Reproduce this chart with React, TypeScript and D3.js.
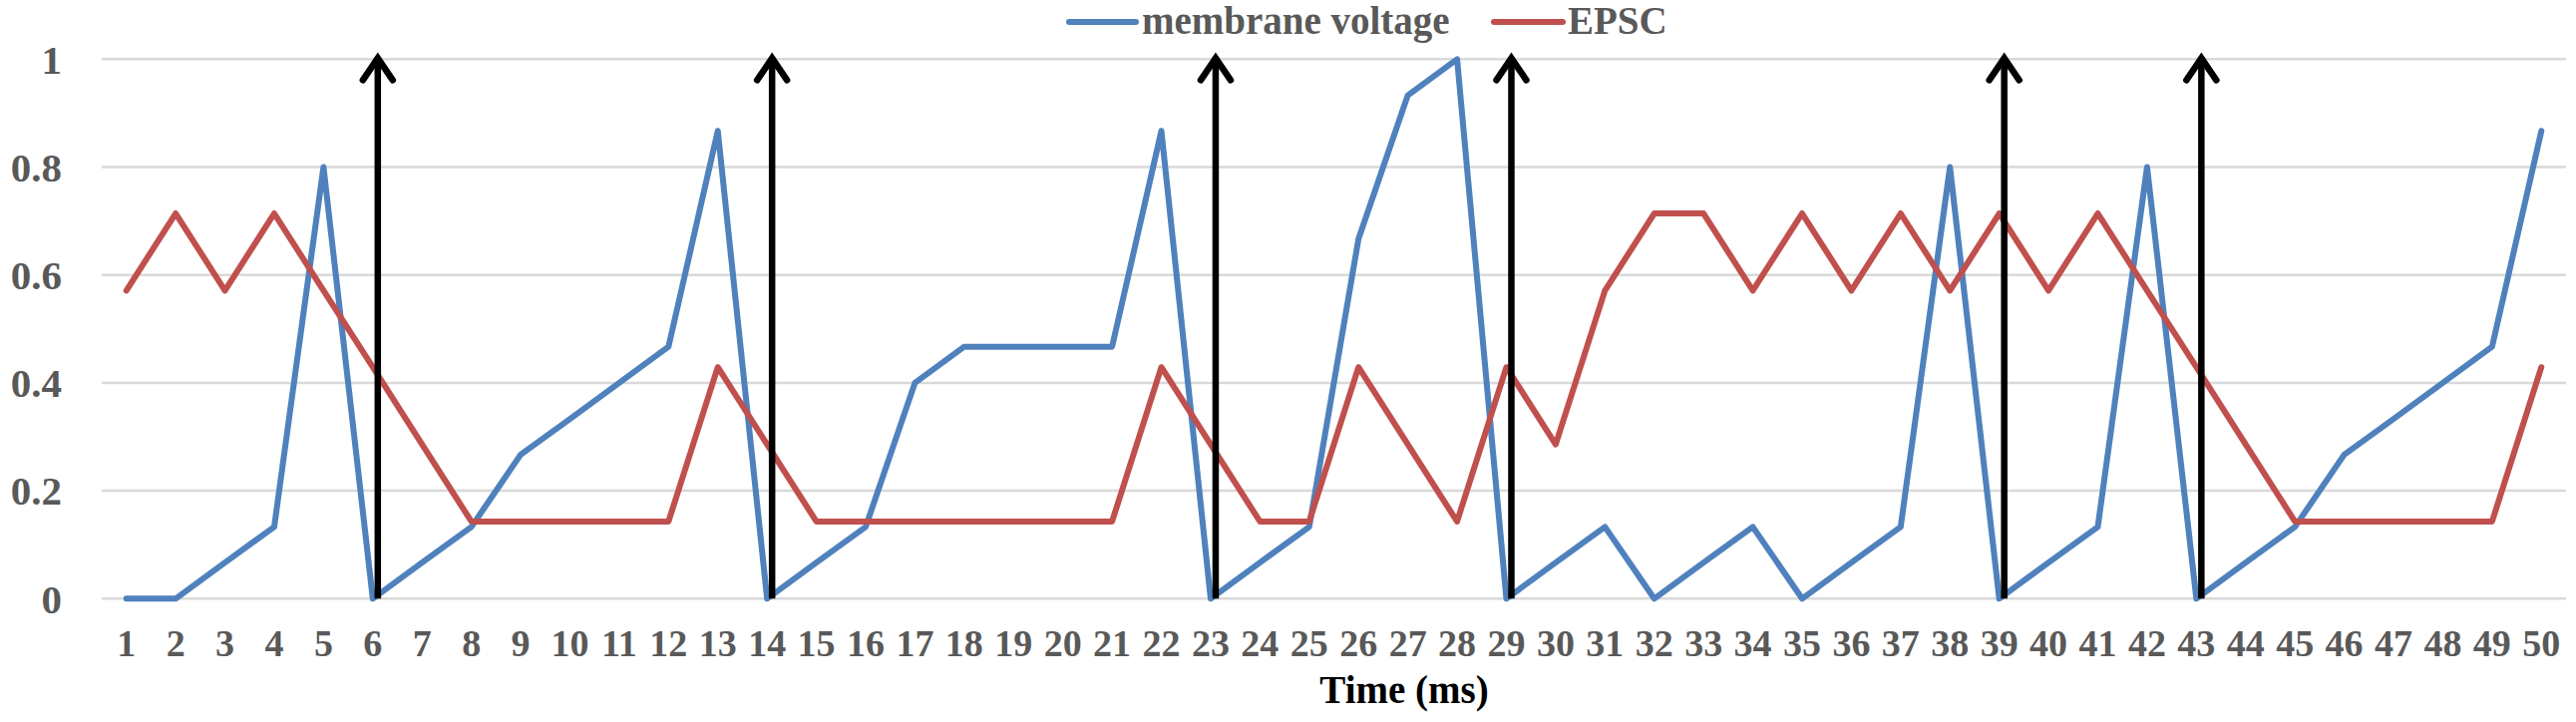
import { useEffect, useRef } from 'react';
import * as d3 from 'd3';

// time steps 1..50 (ms)
const TIMES = [
  1, 2, 3, 4, 5, 6, 7, 8, 9, 10, 11, 12, 13, 14, 15, 16, 17, 18, 19, 20, 21, 22, 23, 24, 25,
  26, 27, 28, 29, 30, 31, 32, 33, 34, 35, 36, 37, 38, 39, 40, 41, 42, 43, 44, 45, 46, 47, 48, 49, 50,
];

const VOLTAGE = [
  0, 0, 0.067, 0.133, 0.8, 0, 0.067, 0.133, 0.267, 0.333,
  0.4, 0.467, 0.867, 0, 0.067, 0.133, 0.4, 0.467, 0.467, 0.467,
  0.467, 0.867, 0, 0.067, 0.133, 0.667, 0.933, 1.0, 0, 0.067,
  0.133, 0, 0.067, 0.133, 0, 0.067, 0.133, 0.8, 0, 0.067,
  0.133, 0.8, 0, 0.067, 0.133, 0.267, 0.333, 0.4, 0.467, 0.867,
];

const EPSC = [
  0.571, 0.714, 0.571, 0.714, 0.571, 0.429, 0.286, 0.143, 0.143, 0.143,
  0.143, 0.143, 0.429, 0.286, 0.143, 0.143, 0.143, 0.143, 0.143, 0.143,
  0.143, 0.429, 0.286, 0.143, 0.143, 0.429, 0.286, 0.143, 0.429, 0.286,
  0.571, 0.714, 0.714, 0.571, 0.714, 0.571, 0.714, 0.571, 0.714, 0.571,
  0.714, 0.571, 0.429, 0.286, 0.143, 0.143, 0.143, 0.143, 0.143, 0.429,
];

// spike times (black arrows)
const SPIKES = [6, 14, 23, 29, 39, 43];

const Y_TICKS = [0, 0.2, 0.4, 0.6, 0.8, 1];

const SERIES = [
  { name: 'membrane voltage', color: '#4F81BD', values: VOLTAGE },
  { name: 'EPSC', color: '#C0504D', values: EPSC },
];

const W = 2583;
const H = 724;
const FONT = "'Times New Roman', 'Liberation Serif', serif";

export default function App() {
  const svgRef = useRef<SVGSVGElement>(null);

  useEffect(() => {
    if (!svgRef.current) return;
    const svg = d3.select(svgRef.current);
    svg.selectAll('*').remove();

    const left = 102;
    const right = 2573;
    const top = 59.3;
    const bottom = 600.3;

    const x = d3.scaleBand<number>().domain(TIMES).range([left, right]);
    const cx = (t: number) => (x(t) ?? 0) + x.bandwidth() / 2;
    const y = d3.scaleLinear().domain([0, 1]).range([bottom, top]);

    // gridlines
    svg.append('g')
      .selectAll('line')
      .data(Y_TICKS)
      .join('line')
      .attr('x1', left)
      .attr('x2', right)
      .attr('y1', d => y(d))
      .attr('y2', d => y(d))
      .attr('stroke', '#D9D9D9')
      .attr('stroke-width', 2.5);

    // y tick labels
    svg.append('g')
      .selectAll('text')
      .data(Y_TICKS)
      .join('text')
      .attr('x', 62)
      .attr('y', d => y(d))
      .attr('dy', '0.35em')
      .attr('text-anchor', 'end')
      .attr('font-family', FONT)
      .attr('font-weight', 'bold')
      .attr('font-size', 41)
      .attr('fill', '#595959')
      .text(d => String(d));

    // x tick labels
    svg.append('g')
      .selectAll('text')
      .data(TIMES)
      .join('text')
      .attr('x', d => cx(d))
      .attr('y', 658)
      .attr('text-anchor', 'middle')
      .attr('font-family', FONT)
      .attr('font-weight', 'bold')
      .attr('font-size', 38)
      .attr('fill', '#595959')
      .text(d => String(d));

    // axis title
    svg.append('text')
      .attr('x', 1408)
      .attr('y', 705)
      .attr('text-anchor', 'middle')
      .attr('font-family', FONT)
      .attr('font-weight', 'bold')
      .attr('font-size', 39)
      .attr('fill', '#000')
      .text('Time (ms)');

    // series lines
    const line = d3.line<number>()
      .x((_, i) => cx(TIMES[i]))
      .y(d => y(d));

    SERIES.forEach(s => {
      svg.append('path')
        .datum(s.values)
        .attr('d', line)
        .attr('fill', 'none')
        .attr('stroke', s.color)
        .attr('stroke-width', 6)
        .attr('stroke-linejoin', 'round')
        .attr('stroke-linecap', 'round');
    });

    // spike arrows
    const arrows = svg.append('g');
    SPIKES.forEach(t => {
      const ax = cx(t) + 5;
      const tip = y(1) - 4;
      arrows.append('line')
        .attr('x1', ax)
        .attr('x2', ax)
        .attr('y1', y(0))
        .attr('y2', tip + 2)
        .attr('stroke', '#000')
        .attr('stroke-width', 6.5);
      arrows.append('path')
        .attr('d', `M${ax - 15},${tip + 25}L${ax},${tip + 3}L${ax + 15},${tip + 25}`)
        .attr('fill', 'none')
        .attr('stroke', '#000')
        .attr('stroke-width', 6.5)
        .attr('stroke-linecap', 'round')
        .attr('stroke-linejoin', 'miter');
    });

    // legend
    const legendItems = [
      { ...SERIES[0], x0: 1072, x1: 1139, tx: 1145 },
      { ...SERIES[1], x0: 1498, x1: 1567, tx: 1572 },
    ];
    const lg = svg.append('g');
    legendItems.forEach(item => {
      lg.append('line')
        .attr('x1', item.x0)
        .attr('x2', item.x1)
        .attr('y1', 22)
        .attr('y2', 22)
        .attr('stroke', item.color)
        .attr('stroke-width', 6)
        .attr('stroke-linecap', 'round');
      lg.append('text')
        .attr('x', item.tx)
        .attr('y', 34)
        .attr('font-family', FONT)
        .attr('font-weight', 'bold')
        .attr('font-size', 39)
        .attr('fill', '#595959')
        .text(item.name);
    });
  }, []);

  return (
    <svg
      ref={svgRef}
      width={W}
      height={H}
      style={{ position: 'absolute', left: 0, top: 0, background: '#fff' }}
    />
  );
}
